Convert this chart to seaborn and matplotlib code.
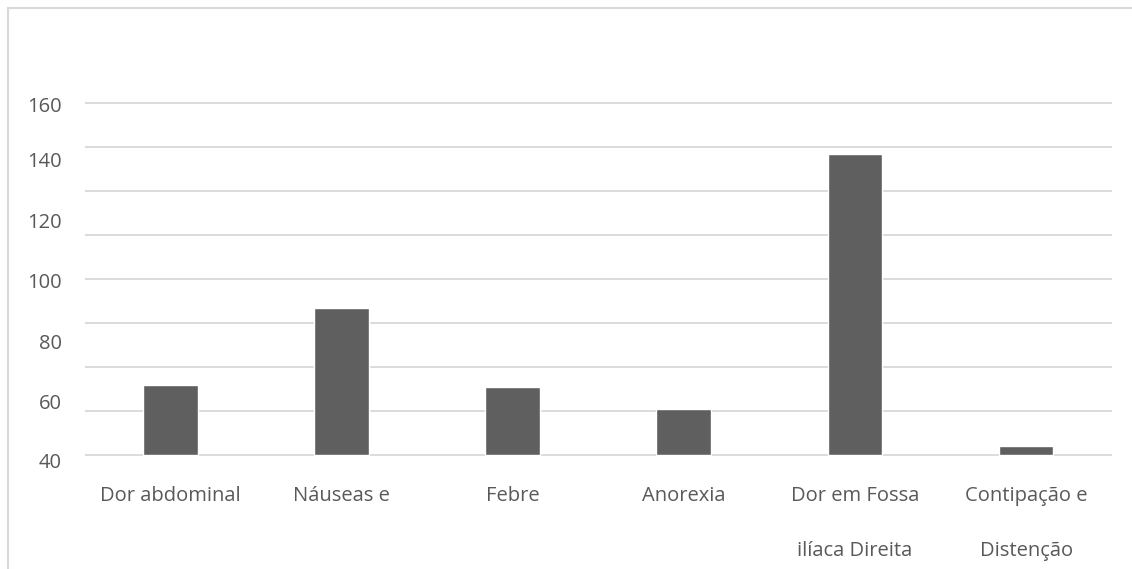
import numpy as np
import seaborn as sns
import matplotlib.pyplot as plt
from matplotlib.patches import Rectangle

# Data (grid runs 0-160 in steps of 20)
categories = ["Dor abdominal", "Náuseas e", "Febre", "Anorexia",
              "Dor em Fossa\nilíaca Direita", "Contipação e\nDistenção"]
counts = [32, 67, 31, 21, 137, 4]

# y tick labels as they appear in the picture (they sit off the gridlines)
ytick_labels = ["160", "140", "120", "100", "80", "60", "40"]
ytick_pos = [159.1, 134.1, 106.8, 79.5, 51.8, 24.1, -2.3]
grid_vals = np.arange(0, 161, 20)

bar_color = "#5f5f5f"
text_color = "#595959"
grid_color = "#d9d9d9"

sns.set_style("white")
plt.rcParams["font.family"] = ["Open Sans", "DejaVu Sans"]

fig = plt.figure(figsize=(11.32, 5.69), dpi=100)
ax = fig.add_axes([0.075, 0.1849, 0.907, 0.6418])

sns.barplot(x=categories, y=counts, color=bar_color, saturation=1,
            width=0.32, ax=ax, zorder=3)

ax.set_ylim(-4, 162)
ax.set_xlim(-0.5, len(categories) - 0.5)

# gridlines on minor ticks, labels on major ticks
ax.set_yticks(grid_vals, minor=True)
ax.set_yticks(ytick_pos, ytick_labels)
ax.grid(which="minor", axis="y", color=grid_color, linewidth=1.3, zorder=0)
ax.grid(which="major", visible=False)
ax.tick_params(axis="y", which="both", length=0, labelsize=14.5,
               labelcolor=text_color, pad=16.5)
ax.tick_params(axis="x", length=0, labelsize=14.5, labelcolor=text_color, pad=16)
for lbl in ax.get_xticklabels():
    lbl.set_linespacing(3.3)

for s in ax.spines.values():
    s.set_visible(False)
ax.set_xlabel("")
ax.set_ylabel("")

# chart-area border (left and top edges visible)
fig.patches.append(Rectangle((0.007, -0.1), 1.2, 1.086, transform=fig.transFigure,
                             fill=False, edgecolor=grid_color, linewidth=1.5))

fig.savefig("out.png", dpi=100)
